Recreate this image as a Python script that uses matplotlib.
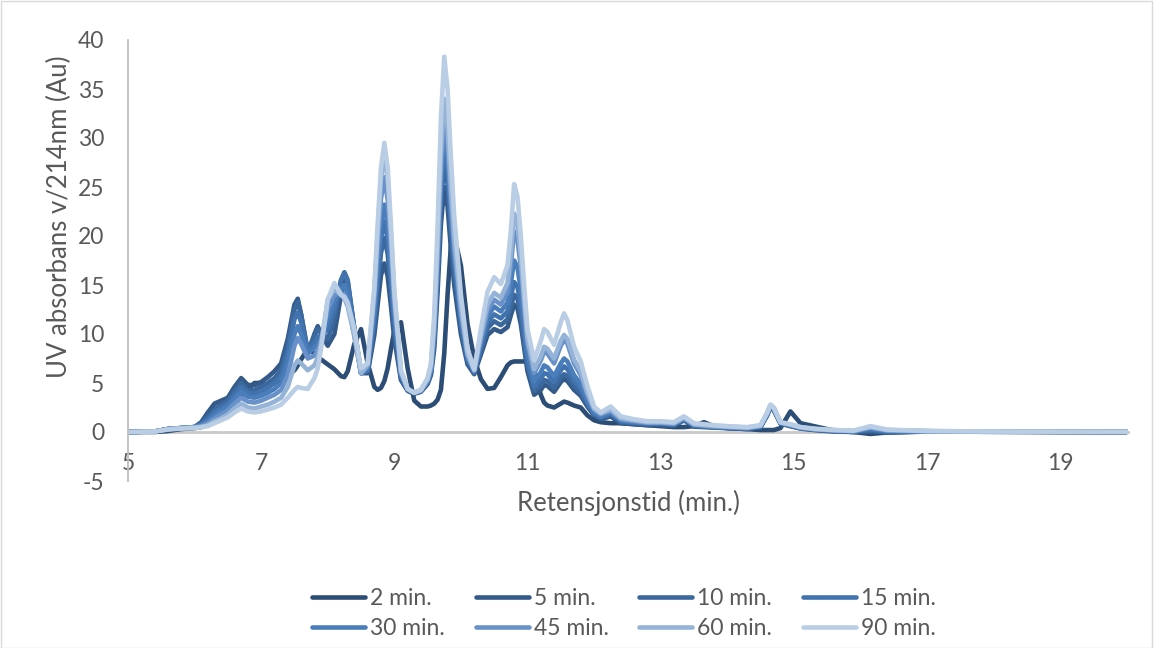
import matplotlib
matplotlib.use("Agg")
import matplotlib.pyplot as plt
from matplotlib.patches import Rectangle

plt.rcParams['font.family'] = ['Lato', 'DejaVu Sans']
plt.rcParams['axes.unicode_minus'] = False

rt = [5.0, 5.4, 5.6, 5.8, 6.0,
      6.1, 6.2, 6.3, 6.4, 6.5, 6.6, 6.7, 6.8, 6.9, 7.0,
      7.1, 7.2, 7.3, 7.4, 7.5, 7.55, 7.6, 7.7, 7.8, 7.85,
      7.9, 8.0, 8.1, 8.2, 8.25, 8.3, 8.4, 8.5, 8.6, 8.7,
      8.75, 8.8, 8.85, 8.9, 8.95, 9.0, 9.1, 9.2, 9.3, 9.4,
      9.5, 9.55, 9.6, 9.65, 9.7, 9.75, 9.8, 9.85, 9.9, 10.0,
      10.1, 10.2, 10.3, 10.4, 10.5, 10.6, 10.7, 10.75, 10.8, 10.85,
      10.9, 10.95, 11.0, 11.1, 11.2, 11.25, 11.3, 11.4, 11.5, 11.55,
      11.6, 11.7, 11.8, 11.9, 12.0, 12.1, 12.25, 12.4, 12.6, 12.8,
      13.0, 13.2, 13.35, 13.5, 13.65, 13.8, 14.0, 14.3, 14.5, 14.6,
      14.65, 14.7, 14.8, 14.95, 15.1, 15.3, 15.6, 15.9, 16.15, 16.4,
      17.0, 18.0, 19.0, 20.0]

s_2 = [0, 0, 0.1, 0.3, 0.4,
       0.5, 0.7, 1.1, 1.7, 2.4, 3.0, 3.6, 4.3, 5.0, 5.0,
       4.8, 5.0, 5.3, 5.8, 6.3, 6.8, 7.4, 8.5, 8.0, 7.7,
       7.4, 6.9, 6.4, 5.7, 5.6, 6.2, 9.0, 10.5, 7.0, 4.6,
       4.3, 4.5, 5.2, 6.5, 8.5, 10.3, 11.2, 6.5, 3.2, 2.6,
       2.6, 2.7, 2.9, 3.3, 4.3, 8.0, 14.0, 19.0, 20.0, 17.0,
       11.0, 7.5, 5.4, 4.4, 4.5, 5.6, 6.8, 7.1, 7.2, 7.2,
       7.2, 7.2, 7.2, 6.3, 3.8, 3.0, 2.7, 2.5, 2.9, 3.1,
       3.0, 2.7, 2.5, 1.7, 1.2, 1.0, 0.9, 0.9, 0.8, 0.7,
       0.6, 0.5, 0.5, 0.6, 1.0, 0.6, 0.4, 0.3, 0.2, 0.2,
       0.2, 0.2, 0.4, 2.1, 0.9, 0.6, 0.15, 0.0, -0.2, -0.05,
       0.05, 0.02, 0.0, 0.0]

s_5 = [0, 0.05, 0.3, 0.4, 0.5,
       1.0, 2.0, 2.9, 3.2, 3.5, 4.6, 5.5, 4.8, 4.8, 5.1,
       5.6, 6.2, 7.0, 9.5, 13.0, 13.6, 12.0, 8.0, 10.0, 10.8,
       10.0, 8.8, 10.0, 14.0, 15.5, 15.0, 10.5, 6.0, 6.0, 9.9,
       13.0, 16.0, 17.2, 15.9, 12.8, 9.5, 5.3, 4.2, 3.9, 4.1,
       4.9, 5.8, 8.5, 14.3, 21.2, 25.0, 23.0, 18.7, 15.0, 10.0,
       6.9, 5.9, 7.9, 9.9, 10.5, 10.2, 10.7, 11.9, 13.0, 12.6,
       11.0, 8.6, 6.2, 3.8, 4.3, 4.8, 4.7, 4.1, 5.1, 5.4,
       5.2, 4.3, 3.7, 2.6, 1.7, 1.3, 1.6, 0.9, 0.8, 0.7,
       0.7, 0.6, 1.2, 0.55, 0.5, 0.45, 0.4, 0.3, 0.5, 1.7,
       2.5, 2.2, 0.85, 0.6, 0.35, 0.2, 0.05, 0.0, 0.05, -0.05,
       0.05, 0.02, 0.01, 0.0]

s_10 = [0, 0.05, 0.3, 0.4, 0.5,
        0.9, 1.6, 2.3, 2.8, 3.2, 4.2, 5.0, 4.3, 4.3, 4.6,
        5.0, 5.5, 6.3, 8.8, 12.5, 13.3, 12.0, 8.3, 9.8, 10.5,
        10.2, 9.5, 11.5, 15.5, 16.3, 15.5, 10.5, 6.0, 6.2, 10.9,
        14.7, 18.3, 19.8, 18.2, 14.5, 10.5, 5.5, 4.3, 4.0, 4.2,
        5.0, 6.0, 9.2, 15.6, 23.3, 27.5, 25.3, 20.5, 16.4, 10.8,
        7.2, 6.0, 8.3, 10.6, 11.3, 10.9, 11.5, 12.8, 14.0, 13.6,
        11.8, 9.2, 6.7, 4.2, 4.8, 5.3, 5.2, 4.5, 5.6, 5.9,
        5.7, 4.7, 4.0, 2.8, 1.8, 1.4, 1.8, 1.0, 0.9, 0.8,
        0.8, 0.7, 1.25, 0.6, 0.55, 0.5, 0.4, 0.35, 0.5, 1.7,
        2.6, 2.3, 0.9, 0.6, 0.4, 0.25, 0.1, 0.0, 0.15, 0.0,
        0.06, 0.03, 0.02, 0.01]

s_15 = [0, 0.05, 0.3, 0.4, 0.5,
        0.8, 1.3, 2.0, 2.5, 2.9, 3.8, 4.6, 4.0, 3.9, 4.1,
        4.5, 5.0, 5.7, 8.0, 11.5, 12.2, 11.2, 8.3, 9.2, 9.7,
        9.8, 10.5, 12.5, 15.5, 16.2, 15.3, 10.5, 6.0, 6.3, 11.6,
        15.8, 19.8, 21.5, 19.7, 15.6, 11.2, 5.6, 4.3, 4.0, 4.2,
        5.1, 6.2, 9.6, 16.4, 24.5, 29.0, 26.7, 21.5, 17.2, 11.3,
        7.4, 6.1, 8.7, 11.2, 12.0, 11.6, 12.3, 13.8, 15.3, 14.8,
        12.8, 10.0, 7.2, 4.6, 5.4, 6.0, 5.9, 5.1, 6.3, 6.7,
        6.4, 5.2, 4.4, 3.0, 1.9, 1.5, 1.9, 1.1, 0.95, 0.85,
        0.85, 0.75, 1.3, 0.65, 0.6, 0.5, 0.45, 0.35, 0.55, 1.8,
        2.65, 2.35, 0.9, 0.65, 0.4, 0.25, 0.1, 0.05, 0.25, 0.05,
        0.07, 0.03, 0.02, 0.01]

s_30 = [0, 0.05, 0.3, 0.4, 0.5,
        0.7, 1.1, 1.7, 2.2, 2.6, 3.4, 4.1, 3.6, 3.5, 3.7,
        4.0, 4.4, 5.0, 7.0, 10.0, 10.8, 10.0, 8.0, 8.6, 9.0,
        9.5, 11.5, 13.3, 14.5, 15.0, 14.0, 10.0, 6.0, 6.5, 12.3,
        17.0, 21.3, 23.2, 21.2, 16.7, 11.9, 5.8, 4.4, 4.0, 4.2,
        5.2, 6.3, 10.0, 17.2, 25.7, 30.5, 28.0, 22.6, 18.0, 11.8,
        7.6, 6.2, 9.0, 11.8, 12.8, 12.3, 13.2, 15.2, 17.5, 16.8,
        14.5, 11.2, 8.0, 5.2, 6.1, 6.8, 6.6, 5.7, 7.0, 7.5,
        7.2, 5.8, 4.9, 3.3, 2.0, 1.6, 2.0, 1.2, 1.0, 0.9,
        0.9, 0.8, 1.35, 0.7, 0.6, 0.55, 0.5, 0.4, 0.6, 1.8,
        2.7, 2.4, 0.95, 0.7, 0.45, 0.3, 0.15, 0.05, 0.35, 0.1,
        0.08, 0.04, 0.02, 0.01]

s_45 = [0, 0.05, 0.3, 0.4, 0.5,
        0.6, 0.9, 1.4, 1.8, 2.2, 2.9, 3.5, 3.1, 3.0, 3.2,
        3.5, 3.8, 4.3, 5.8, 8.8, 9.6, 9.0, 7.5, 7.8, 8.3,
        9.3, 12.5, 14.0, 14.2, 14.0, 13.2, 9.8, 6.0, 6.7, 13.4,
        18.8, 23.8, 26.0, 23.7, 18.6, 13.0, 6.0, 4.4, 4.0, 4.2,
        5.3, 6.5, 10.5, 18.0, 27.0, 32.0, 29.4, 23.6, 18.8, 12.2,
        7.8, 6.3, 9.5, 12.4, 13.5, 13.0, 14.3, 17.0, 20.5, 19.6,
        16.8, 12.8, 9.0, 6.0, 7.3, 8.2, 8.0, 7.0, 8.8, 9.4,
        9.0, 7.0, 5.8, 3.8, 2.3, 1.8, 2.2, 1.3, 1.1, 0.95,
        0.95, 0.85, 1.4, 0.75, 0.65, 0.6, 0.5, 0.4, 0.6, 1.9,
        2.7, 2.4, 0.95, 0.7, 0.45, 0.3, 0.15, 0.1, 0.45, 0.15,
        0.08, 0.04, 0.02, 0.02]

s_60 = [0, 0.05, 0.3, 0.4, 0.45,
        0.5, 0.7, 1.1, 1.4, 1.8, 2.4, 2.9, 2.5, 2.4, 2.6,
        2.8, 3.1, 3.5, 4.6, 6.8, 7.3, 7.0, 6.3, 6.8, 7.6,
        9.0, 13.5, 14.6, 14.0, 13.6, 12.8, 9.8, 6.0, 6.9, 14.3,
        20.3, 25.9, 28.3, 25.8, 20.1, 13.9, 6.2, 4.4, 4.0, 4.3,
        5.4, 6.7, 11.0, 19.0, 28.5, 34.0, 31.2, 25.0, 19.8, 12.8,
        8.0, 6.3, 9.8, 13.0, 14.2, 13.7, 15.2, 18.2, 22.3, 21.2,
        18.0, 13.5, 9.5, 6.4, 7.7, 8.7, 8.5, 7.5, 9.3, 9.9,
        9.5, 7.4, 6.2, 4.0, 2.4, 1.9, 2.3, 1.4, 1.2, 1.0,
        1.0, 0.9, 1.5, 0.8, 0.7, 0.6, 0.55, 0.45, 0.65, 1.9,
        2.75, 2.45, 1.0, 0.75, 0.5, 0.3, 0.2, 0.1, 0.5, 0.2,
        0.09, 0.05, 0.03, 0.02]

s_90 = [0, 0.05, 0.25, 0.35, 0.4,
        0.5, 0.6, 0.9, 1.2, 1.5, 2.0, 2.4, 2.1, 2.0, 2.1,
        2.3, 2.5, 2.8, 3.5, 4.3, 4.6, 4.5, 4.4, 5.5, 6.5,
        8.5, 13.5, 15.2, 14.0, 13.8, 13.2, 10.5, 6.5, 7.0, 14.8,
        21.2, 27.0, 29.5, 27.0, 21.0, 14.4, 6.3, 4.4, 4.0, 4.3,
        5.5, 7.0, 12.0, 21.0, 32.0, 38.3, 35.0, 28.0, 22.0, 14.0,
        8.5, 6.4, 10.5, 14.3, 15.8, 15.1, 17.0, 20.5, 25.3, 24.0,
        20.0, 15.0, 10.5, 7.3, 9.3, 10.5, 10.2, 8.9, 11.2, 12.1,
        11.4, 8.7, 7.2, 4.7, 2.6, 2.0, 2.6, 1.6, 1.3, 1.1,
        1.1, 1.0, 1.6, 0.9, 0.8, 0.7, 0.6, 0.5, 0.7, 2.0,
        2.8, 2.5, 1.0, 0.8, 0.5, 0.35, 0.2, 0.15, 0.6, 0.25,
        0.1, 0.05, 0.03, 0.02]

labels = ['2 min.', '5 min.', '10 min.', '15 min.', '30 min.', '45 min.', '60 min.', '90 min.']
series = [s_2, s_5, s_10, s_15, s_30, s_45, s_60, s_90]
colors = ['#2C4D75', '#335A89', '#3A679C', '#4173AF', '#4A7EBB', '#6991C9', '#95B3D7', '#B9CDE5']

x_ticks = [5, 7, 9, 11, 13, 15, 17, 19]
y_ticks = [-5, 0, 5, 10, 15, 20, 25, 30, 35, 40]

W, H = 1160, 648
fig = plt.figure(figsize=(W / 100, H / 100), dpi=100)
ax = fig.add_axes([128 / W, (H - 481) / H, 1000 / W, 441 / H])

lines = []
for vals, lab, col in zip(series, labels, colors):
    ln, = ax.plot(rt, vals, color=col, lw=3.3, label=lab, solid_joinstyle='round',
                  solid_capstyle='round')
    lines.append(ln)

ax.set_xlim(5, 20.02)
ax.set_ylim(-5, 40)
ax.set_xticks(x_ticks)
ax.set_yticks(y_ticks)
txtc = '#595959'
ax.tick_params(axis='both', length=0, labelsize=16.5, labelcolor=txtc)
ax.tick_params(axis='x', pad=15)
ax.tick_params(axis='y', pad=17)
for s in ['top', 'right']:
    ax.spines[s].set_visible(False)
ax.spines['left'].set_color('#BFBFBF')
ax.spines['left'].set_linewidth(1.3)
ax.spines['bottom'].set_position(('data', 0))
ax.spines['bottom'].set_color('#C8C8C8')
ax.spines['bottom'].set_linewidth(2.0)
ax.spines['bottom'].set_zorder(0)

fig.text(628 / W, 1 - 503 / H, 'Retensjonstid (min.)', ha='center', va='center',
         fontsize=18.5, color=txtc)
fig.text(59 / W, 1 - 217 / H, 'UV absorbans v/214nm (Au)', ha='center', va='center',
         rotation=90, fontsize=18.5, color=txtc)

# matplotlib fills legend columns first; reorder so entries read row by row
order = [0, 4, 1, 5, 2, 6, 3, 7]
leg = fig.legend([lines[i] for i in order], [labels[i] for i in order], ncol=4,
                 loc='center', bbox_to_anchor=(624 / W, 1 - 613.5 / H),
                 frameon=False, fontsize=16.5, handlelength=2.3, handletextpad=0.22,
                 columnspacing=1.35, labelspacing=0.42)
for t in leg.get_texts():
    t.set_color(txtc)

fig.patches.append(Rectangle((0.5 / W, 0.5 / H), (W - 9) / W, (H - 1) / H,
                             transform=fig.transFigure, fill=False,
                             edgecolor='#D9D9D9', lw=1.0))

fig.savefig('out.png', dpi=100)
